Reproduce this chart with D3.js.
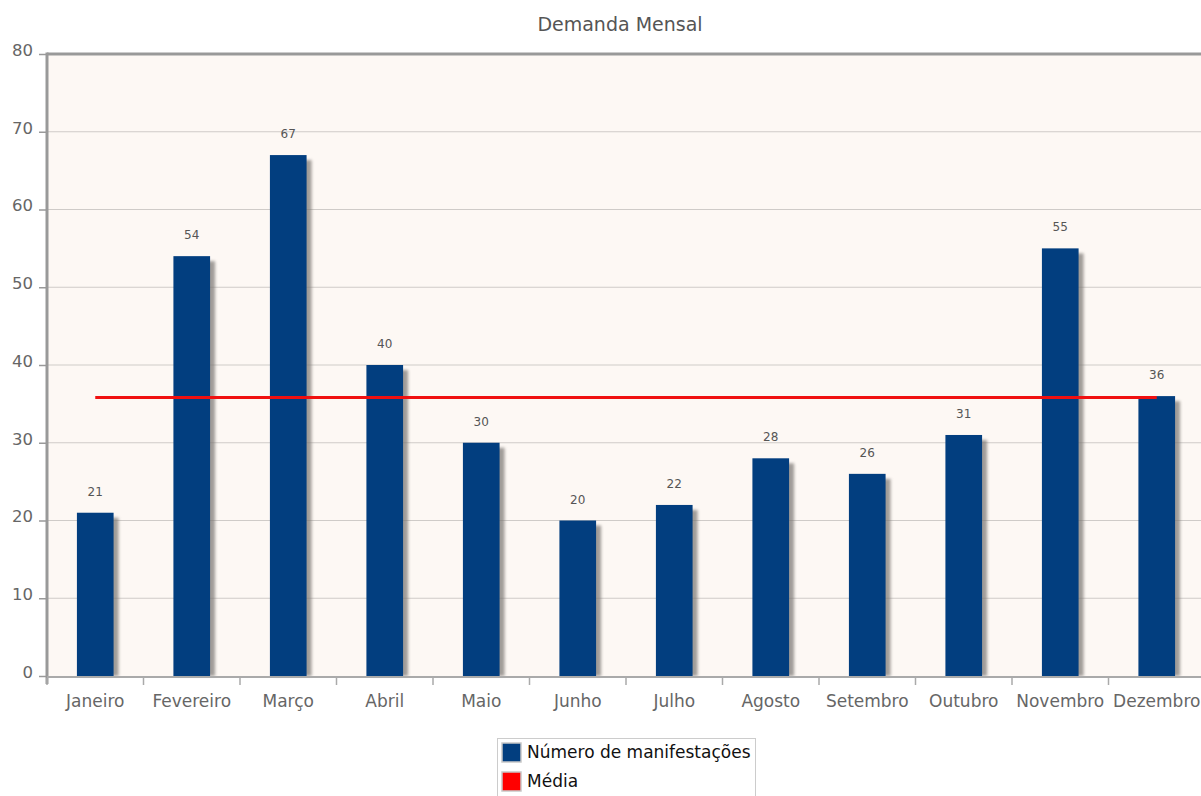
<!DOCTYPE html>
<html>
<head>
<meta charset="utf-8">
<script src="https://cdnjs.cloudflare.com/ajax/libs/d3/7.8.5/d3.min.js"></script>
<style>
body { margin: 0; background: #fff; overflow: hidden; }
text { font-family: "DejaVu Sans", Verdana, sans-serif; }
</style>
</head>
<body>
<div id="chart"></div>
<script>
var months = ["Janeiro", "Fevereiro", "Março", "Abril", "Maio", "Junho",
    "Julho", "Agosto", "Setembro", "Outubro", "Novembro", "Dezembro"];
var manifestacoes = [21, 54, 67, 40, 30, 20, 22, 28, 26, 31, 55, 36];
var yTicks = [0, 10, 20, 30, 40, 50, 60, 70, 80];
var legendItems = ["Número de manifestações", "Média"];

var media = d3.mean(manifestacoes);

var width = 1201,
    height = 796;

var plotLeft = 47, plotRight = 1205, plotTop = 54, plotBottom = 676;

var svg = d3.select("#chart").append("svg")
    .attr("width", width)
    .attr("height", height);

var defs = svg.append("defs");
var blur = defs.append("filter").attr("id", "shadow")
    .attr("x", "-20%").attr("y", "-20%").attr("width", "160%").attr("height", "140%");
blur.append("feGaussianBlur").attr("stdDeviation", 1.5);

var x = d3.scaleBand()
    .domain(months)
    .range([plotLeft, plotRight])
    .paddingInner(0.62)
    .paddingOuter(0.31);

var y = d3.scaleLinear()
    .domain([0, 80])
    .range([plotBottom, plotTop]);

// plot background
svg.append("rect")
    .attr("x", plotLeft)
    .attr("y", plotTop)
    .attr("width", plotRight - plotLeft)
    .attr("height", plotBottom - plotTop)
    .attr("fill", "#fdf8f4");

// gridlines
svg.append("g")
    .selectAll("line")
    .data(yTicks.filter(function(d) { return d > 0 && d < 80; }))
    .enter().append("line")
    .attr("x1", plotLeft)
    .attr("x2", plotRight)
    .attr("y1", function(d) { return y(d); })
    .attr("y2", function(d) { return y(d); })
    .attr("stroke", "#cfcbc8")
    .attr("stroke-width", 1.2);

// bar shadows
svg.append("g")
    .selectAll("rect")
    .data(manifestacoes)
    .enter().append("rect")
    .attr("x", function(d, i) { return x(months[i]) + 5; })
    .attr("y", function(d) { return y(d) + 5; })
    .attr("width", x.bandwidth())
    .attr("height", function(d) { return plotBottom - y(d) - 5; })
    .attr("fill", "#7a7672")
    .attr("opacity", 0.7)
    .attr("filter", "url(#shadow)");

// bars
svg.append("g")
    .selectAll("rect")
    .data(manifestacoes)
    .enter().append("rect")
    .attr("x", function(d, i) { return x(months[i]); })
    .attr("y", function(d) { return y(d); })
    .attr("width", x.bandwidth())
    .attr("height", function(d) { return plotBottom - y(d); })
    .attr("fill", "#023e7f");

// value labels
svg.append("g")
    .selectAll("text")
    .data(manifestacoes)
    .enter().append("text")
    .attr("x", function(d, i) { return x(months[i]) + x.bandwidth() / 2; })
    .attr("y", function(d) { return y(d) - 17; })
    .attr("text-anchor", "middle")
    .attr("font-size", "12px")
    .attr("fill", "#555")
    .text(function(d) { return d; });

// average line
var xMid = function(m) { return x(m) + x.bandwidth() / 2; };
svg.append("line")
    .attr("x1", xMid(months[0]))
    .attr("x2", xMid(months[months.length - 1]))
    .attr("y1", y(media) + 1)
    .attr("y2", y(media) + 1)
    .attr("stroke", "#b08080")
    .attr("stroke-width", 4)
    .attr("opacity", 0.4)
    .attr("filter", "url(#shadow)");
svg.append("line")
    .attr("x1", xMid(months[0]))
    .attr("x2", xMid(months[months.length - 1]))
    .attr("y1", y(media))
    .attr("y2", y(media))
    .attr("stroke", "#f01010")
    .attr("stroke-width", 3);

// frame: left axis and top border
svg.append("line")
    .attr("x1", plotLeft).attr("x2", plotRight)
    .attr("y1", plotTop).attr("y2", plotTop)
    .attr("stroke", "#999").attr("stroke-width", 3);
svg.append("line")
    .attr("x1", plotLeft).attr("x2", plotLeft)
    .attr("y1", plotTop - 1.5).attr("y2", plotBottom + 8)
    .attr("stroke", "#999").attr("stroke-width", 3);
svg.append("line")
    .attr("x1", plotLeft).attr("x2", plotRight)
    .attr("y1", plotBottom + 1).attr("y2", plotBottom + 1)
    .attr("stroke", "#aaa").attr("stroke-width", 2);

// y axis
var yAxis = svg.append("g")
    .attr("transform", "translate(" + plotLeft + ",0)")
    .call(d3.axisLeft(y).tickValues(yTicks).tickSize(8).tickPadding(6));
yAxis.select(".domain").remove();
yAxis.selectAll("line").attr("stroke", "#999").attr("stroke-width", 1.5);
yAxis.selectAll("text")
    .attr("font-size", "16.5px")
    .attr("fill", "#666")
    .attr("dy", "0.08em")
    .style("font-family", "'DejaVu Sans', Verdana, sans-serif");

// x axis ticks at band boundaries
var halfGap = (x.step() - x.bandwidth()) / 2;
svg.append("g")
    .selectAll("line")
    .data(months)
    .enter().append("line")
    .attr("x1", function(d) { return x(d) - halfGap; })
    .attr("x2", function(d) { return x(d) - halfGap; })
    .attr("y1", plotBottom + 2)
    .attr("y2", plotBottom + 9)
    .attr("stroke", "#aaa")
    .attr("stroke-width", 1.5);

var xAxis = svg.append("g")
    .attr("transform", "translate(0," + plotBottom + ")")
    .call(d3.axisBottom(x).tickSize(0).tickPadding(19));
xAxis.select(".domain").remove();
xAxis.selectAll("text")
    .attr("font-size", "17px")
    .attr("fill", "#666")
    .style("font-family", "'DejaVu Sans', Verdana, sans-serif");

// title
svg.append("text")
    .attr("x", 620)
    .attr("y", 31)
    .attr("text-anchor", "middle")
    .attr("font-size", "19px")
    .attr("fill", "#555")
    .text("Demanda Mensal");

// legend
var legend = svg.append("g").attr("transform", "translate(497,738)");
legend.append("rect")
    .attr("x", 0.5).attr("y", 0.5)
    .attr("width", 258).attr("height", 64)
    .attr("fill", "#fff")
    .attr("stroke", "#ccc");
var legendColor = d3.scaleOrdinal().domain(legendItems).range(["#023e7f", "#f00"]);
var li = legend.selectAll(".legend-item")
    .data(legendItems)
    .enter().append("g")
    .attr("class", "legend-item")
    .attr("transform", function(d, i) { return "translate(0," + (i * 29) + ")"; });
li.append("rect")
    .attr("x", 5).attr("y", 5)
    .attr("width", 19).attr("height", 19)
    .attr("fill", function(d) { return legendColor(d); })
    .attr("stroke", "#c8c8c8")
    .attr("stroke-width", 1.5);
li.append("text")
    .attr("x", 30)
    .attr("y", 20)
    .attr("font-size", "17px")
    .attr("fill", "#111")
    .text(function(d) { return d; });
</script>
</body>
</html>
